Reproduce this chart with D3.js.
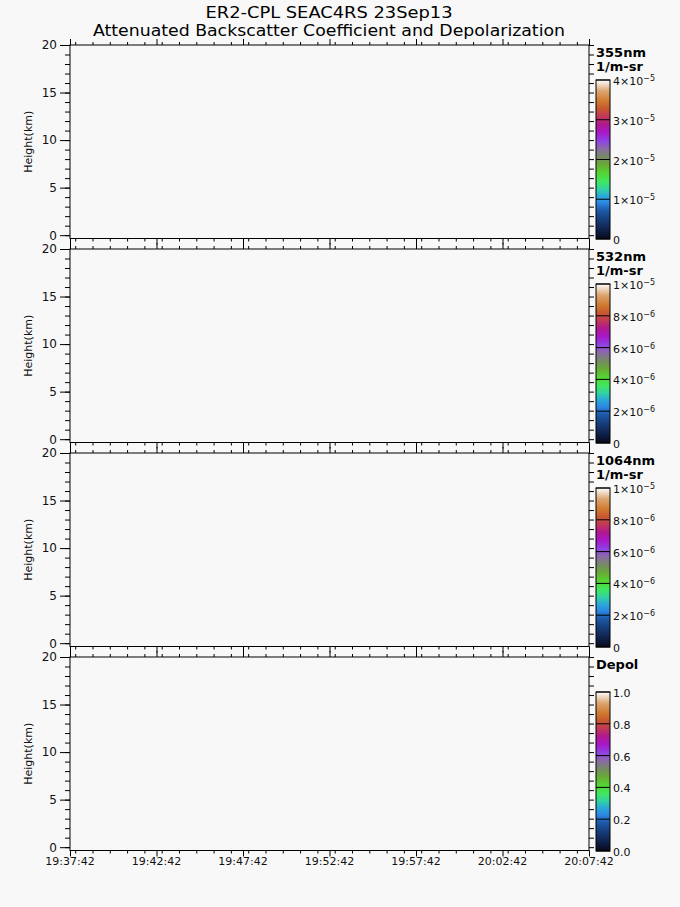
<!DOCTYPE html>
<html>
<head>
<meta charset="utf-8">
<script src="https://cdn.jsdelivr.net/npm/d3@7"></script>
<style>
  body { margin: 0; background: #f8f8f8; }
  svg { display: block; font-family: "DejaVu Sans", sans-serif; }
</style>
</head>
<body>
<div id="chart"></div>
<script>
// values
var titleLines = ['ER2-CPL SEAC4RS 23Sep13', 'Attenuated Backscatter Coefficient and Depolarization'];
var panelNames = ['355nm', '532nm', '1064nm', 'Depol'];
var panelUnits = ['1/m-sr', '1/m-sr', '1/m-sr', ''];
var cbMax = [4e-5, 1e-5, 1e-5, 1.0];
var cbTicks355 = [0, 1e-5, 2e-5, 3e-5, 4e-5];
var cbTicks532 = [0, 2e-6, 4e-6, 6e-6, 8e-6, 1e-5];
var cbTicks1064 = [0, 2e-6, 4e-6, 6e-6, 8e-6, 1e-5];
var cbTicksDepol = [0, 0.2, 0.4, 0.6, 0.8, 1.0];
var heightTicks = [0, 5, 10, 15, 20];
var timeLabels = ['19:37:42', '19:42:42', '19:47:42', '19:52:42', '19:57:42', '20:02:42', '20:07:42'];
var flightDate = '2013-09-23';
// CPL colour table, position 0..1 -> colour
var cmapPos = [0, 0.05, 0.12, 0.18, 0.23, 0.27, 0.31, 0.36, 0.42, 0.47, 0.52, 0.57, 0.62, 0.67, 0.72, 0.77, 0.82, 0.87, 0.93, 1];
var cmapColors = ['#08081a', '#0e1e44', '#163c78', '#1c5aa8', '#2c8ae4', '#2aa8d8', '#30d0a8', '#40e860', '#58d030', '#68a838',
                  '#78886a', '#8a6aa8', '#9040e4', '#a818c8', '#b01890', '#c03858', '#c85830', '#d07c30', '#dca470', '#ffffff'];

var svgWidth = 680, svgHeight = 907;
var plotLeft = 70, plotRight = 589;
var panelTop0 = 45, panelH = 193.5, panelStep = 204;

var svg = d3.select('#chart').append('svg')
    .attr('width', svgWidth).attr('height', svgHeight);
svg.append('rect').attr('width', svgWidth).attr('height', svgHeight).attr('fill', '#f8f8f8');

// title
svg.append('text').attr('x', 329).attr('y', 18).attr('text-anchor', 'middle')
    .attr('font-size', 16).attr('textLength', 247).attr('lengthAdjust', 'spacingAndGlyphs')
    .text(titleLines[0]);
svg.append('text').attr('x', 329).attr('y', 36).attr('text-anchor', 'middle')
    .attr('font-size', 16).attr('textLength', 472).attr('lengthAdjust', 'spacingAndGlyphs')
    .text(titleLines[1]);

var parseT = d3.utcParse('%Y-%m-%d %H:%M:%S');
var timeVals = timeLabels.map(function (s) { return parseT(flightDate + ' ' + s); });
var x = d3.scaleUtc()
    .domain([timeVals[0], timeVals[timeVals.length - 1]])
    .range([plotLeft, plotRight]);
var minorTimes = d3.utcMinute.range(timeVals[0], d3.utcSecond.offset(timeVals[timeVals.length - 1], 1));

// gradient
var defs = svg.append('defs');
var grad = defs.append('linearGradient').attr('id', 'cpl')
    .attr('x1', 0).attr('y1', 1).attr('x2', 0).attr('y2', 0);
cmapPos.forEach(function (p, i) {
  grad.append('stop').attr('offset', p).attr('stop-color', cmapColors[i]);
});

function fmtSci(v) {
  if (v === 0) return {m: '0', e: null};
  var e = Math.floor(Math.log10(v) + 1e-9);
  var m = Math.round(v / Math.pow(10, e));
  return {m: m + '\u00d710', e: '\u2212' + (-e)};
}

var cbTickSets = [cbTicks355, cbTicks532, cbTicks1064, cbTicksDepol];

panelNames.forEach(function (name, i) {
  var top = panelTop0 + i * panelStep;
  var y = d3.scaleLinear().domain([-0.35, 20]).range([top + panelH, top]);
  var g = svg.append('g');

  // frame
  g.append('rect').attr('x', plotLeft).attr('y', top)
    .attr('width', plotRight - plotLeft).attr('height', panelH)
    .attr('fill', 'none').attr('stroke', '#000').attr('stroke-width', 1);

  // left axis
  var yMinor = d3.range(0, 21);
  g.append('g').attr('transform', 'translate(' + plotLeft + ',0)')
    .call(d3.axisLeft(y).tickValues(yMinor).tickSize(5).tickFormat(''))
    .call(function (a) { a.select('.domain').remove(); });
  var yl = g.append('g').attr('transform', 'translate(' + plotLeft + ',0)')
    .call(d3.axisLeft(y).tickValues(heightTicks).tickSize(10).tickPadding(3).tickFormat(d3.format('d')));
  yl.select('.domain').remove();
  yl.selectAll('text').attr('font-size', 12).attr('font-family', 'DejaVu Sans').attr('fill', '#111');

  // right axis
  g.append('g').attr('transform', 'translate(' + plotRight + ',0)')
    .call(d3.axisRight(y).tickValues(yMinor).tickSize(5).tickFormat(''))
    .call(function (a) { a.select('.domain').remove(); });

  // top & bottom time axes
  [[d3.axisTop, top], [d3.axisBottom, top + panelH]].forEach(function (ax) {
    g.append('g').attr('transform', 'translate(0,' + ax[1] + ')')
      .call(ax[0](x).tickValues(minorTimes).tickSize(3).tickFormat(''))
      .call(function (a) { a.select('.domain').remove(); });
    var maj = g.append('g').attr('transform', 'translate(0,' + ax[1] + ')')
      .call(ax[0](x).tickValues(timeVals).tickSize(6).tickFormat(''));
    maj.select('.domain').remove();
  });

  g.selectAll('line').attr('stroke', '#000');

  // y title
  g.append('text').attr('transform', 'translate(32,' + (top + panelH / 2) + ') rotate(-90)')
    .attr('text-anchor', 'middle').attr('font-size', 11).attr('fill', '#111')
    .text('Height(km)');

  // colour bar
  var cbTop = top + 35, cbBottom = top + panelH + 0.5;
  var cb = d3.scaleLinear().domain([0, cbMax[i]]).range([cbBottom, cbTop]);
  var cbx = 596, cbw = 14;
  g.append('rect').attr('x', cbx).attr('y', cbTop).attr('width', cbw).attr('height', cbBottom - cbTop)
    .attr('fill', 'url(#cpl)').attr('stroke', '#000').attr('stroke-width', 1);
  cbTickSets[i].forEach(function (v) {
    g.append('line').attr('x1', cbx).attr('x2', cbx + cbw)
      .attr('y1', cb(v)).attr('y2', cb(v)).attr('stroke', '#000');
    var t = g.append('text').attr('x', cbx + cbw + 3).attr('y', cb(v) + 5)
      .attr('font-size', 11).attr('fill', '#111');
    if (i === 3) {
      t.text(d3.format('.1f')(v));
    } else {
      var f = fmtSci(v);
      t.append('tspan').text(f.m);
      if (f.e) t.append('tspan').attr('dy', -4).attr('font-size', 8).text(f.e);
    }
  });

  // colour bar title
  g.append('text').attr('x', 596).attr('y', top + 12).attr('font-size', 13).attr('font-weight', 'bold')
    .text(name);
  if (panelUnits[i]) {
    g.append('text').attr('x', 596).attr('y', top + 26).attr('font-size', 13).attr('font-weight', 'bold')
      .text(panelUnits[i]);
  }
});

// time labels under the last panel
var lastBottom = panelTop0 + 3 * panelStep + panelH;
svg.append('g').selectAll('text').data(timeVals).enter().append('text')
  .attr('x', function (d) { return x(d); })
  .attr('y', lastBottom + 14)
  .attr('text-anchor', 'middle').attr('font-size', 11).attr('fill', '#111')
  .text(function (d, j) { return timeLabels[j]; });
</script>
</body>
</html>
